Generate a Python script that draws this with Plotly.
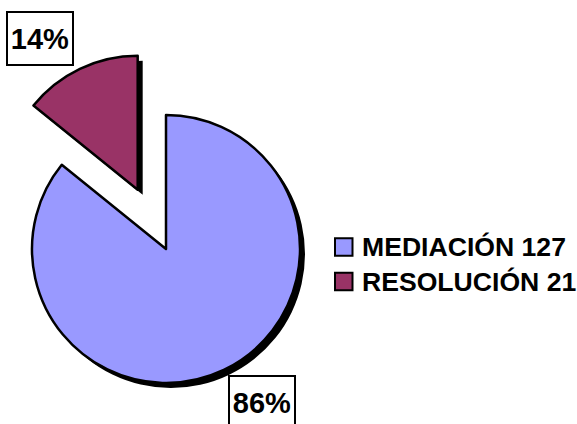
import math
import plotly.graph_objects as go

# Case counts by procedure type
labels = ["MEDIACIÓN", "RESOLUCIÓN"]
counts = [127, 21]
colors = ["#9999FF", "#993366"]

W, H = 577, 424
FONT = "Arial, 'Liberation Sans', sans-serif"

total = sum(counts)
shares = [c / total for c in counts]
pct_text = [f"{round(100 * s)}%" for s in shares]

# Pie geometry (pixels): centre and radius of the main pie, how far the
# second slice is pulled out (fraction of the radius) and the drop shadow offset
CX, CY, R = 166, 249, 134
PULL = 0.49
SHADOW = (5, 5)
EDGE = 2.5

# Direction of the pulled slice: its mid-angle, clockwise from 12 o'clock
mid = 2 * math.pi * (shares[0] + shares[1] / 2)
pull_dx = PULL * R * math.sin(mid)
pull_dy = -PULL * R * math.cos(mid)


def domain(cx, cy, r):
    return dict(x=[(cx - r) / W, (cx + r) / W],
                y=[1 - (cy + r) / H, 1 - (cy - r) / H])


def slice_trace(idx, cx, cy, fill, line_w):
    """A full pie of the counts where only slice `idx` is painted."""
    fills = ["rgba(0,0,0,0)"] * len(counts)
    widths = [0] * len(counts)
    fills[idx] = fill
    widths[idx] = line_w
    return go.Pie(
        labels=labels, values=counts, sort=False,
        direction="clockwise", rotation=0,
        marker=dict(colors=fills, line=dict(color="black", width=widths)),
        textinfo="none", hoverinfo="skip", showlegend=False,
        domain=domain(cx, cy, R),
    )


centres = [(CX, CY), (CX + pull_dx, CY + pull_dy)]

fig = go.Figure()
# shadows first, then the coloured slices on top
for i, (cx, cy) in enumerate(centres):
    fig.add_trace(slice_trace(i, cx + SHADOW[0], cy + SHADOW[1], "black", 0))
for i, (cx, cy) in enumerate(centres):
    fig.add_trace(slice_trace(i, cx, cy, colors[i], EDGE))

annotations = []
shapes = []

# Boxed percentage labels
label_pos = [(262, 402.5), (40, 38.5)]
for (x, y), t in zip(label_pos, pct_text):
    annotations.append(dict(
        x=x / W, y=1 - y / H, xref="paper", yref="paper",
        xanchor="center", yanchor="middle", showarrow=False,
        text=f"<b>{t}</b>",
        font=dict(family=FONT, size=29, color="black"),
        bgcolor="white", bordercolor="black", borderwidth=2, borderpad=0,
        width=64, height=51,
    ))

# Legend: coloured squares with bold labels
leg_x, leg_y, leg_gap, sq = 335, 247, 34.5, 17.5
for i, (lab, c) in enumerate(zip(labels, counts)):
    y = leg_y + i * leg_gap
    shapes.append(dict(
        type="rect", xref="paper", yref="paper",
        x0=leg_x / W, x1=(leg_x + sq) / W,
        y0=1 - (y + sq / 2) / H, y1=1 - (y - sq / 2) / H,
        fillcolor=colors[i], line=dict(color="black", width=2),
    ))
    annotations.append(dict(
        x=(leg_x + sq + 7) / W, y=1 - y / H, xref="paper", yref="paper",
        xanchor="left", yanchor="middle", showarrow=False,
        text=f"<b>{lab} {c}</b>",
        font=dict(family=FONT, size=26.6, color="black"),
    ))

fig.update_layout(
    width=W, height=H,
    margin=dict(l=0, r=0, t=0, b=0),
    paper_bgcolor="white", plot_bgcolor="white",
    showlegend=False,
    annotations=annotations, shapes=shapes,
)

fig.write_html("out.html")
